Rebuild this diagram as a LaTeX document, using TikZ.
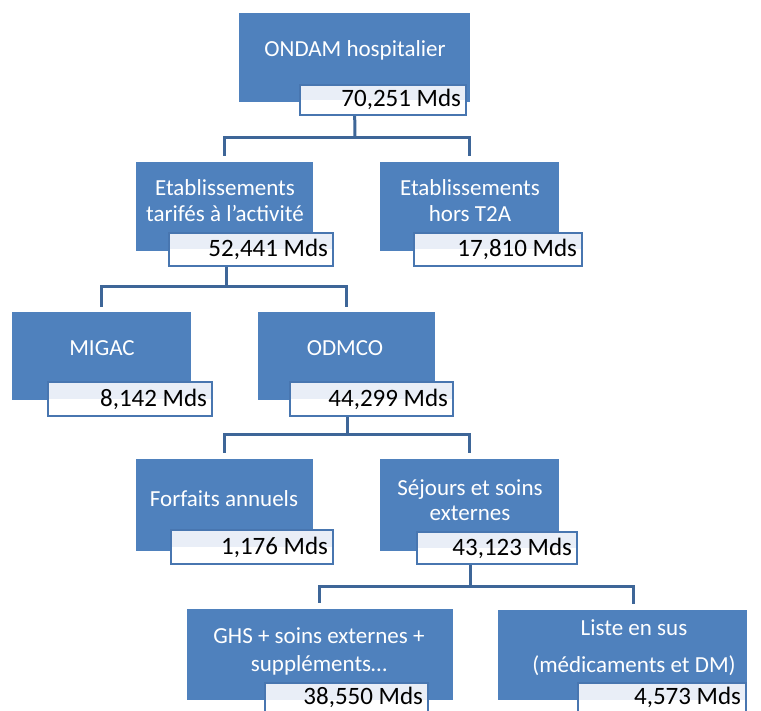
\documentclass[tikz,border=0pt]{standalone}
\usepackage{fontspec}
\setmainfont{Carlito}
\usetikzlibrary{backgrounds}
\definecolor{boxblue}{RGB}{79,129,189}
\definecolor{linkblue}{RGB}{62,102,152}
\definecolor{amtborder}{RGB}{72,118,176}
\definecolor{amtlight}{RGB}{233,238,247}
\tikzset{
  bbox/.style={fill=boxblue, draw=none, inner sep=0pt},
  btext/.style={text=white, align=center, inner sep=0pt, font=\fontsize{23}{26}\selectfont},
  amt/.style={draw=amtborder, line width=2.4pt, fill=white, inner sep=0pt,
    path picture={\fill[amtlight] (path picture bounding box.north west) rectangle (path picture bounding box.east);}},
  amttext/.style={anchor=base east, inner sep=0pt, text=black, font=\fontsize{25}{28}\selectfont},
  conn/.style={draw=linkblue, line width=3pt, line join=miter}
}
\begin{document}
\begin{tikzpicture}[x=1pt,y=-1pt]
\useasboundingbox (0,0) rectangle (761,711);
\clip (0,0) rectangle (761,711);
% blue boxes
\node[bbox, minimum width=231pt, minimum height=89pt] (T0) at (354.5,57.5) {};
\node[bbox, minimum width=177pt, minimum height=89pt] (B1) at (224.5,206.5) {};
\node[bbox, minimum width=179pt, minimum height=89pt] (B2) at (469.5,206.5) {};
\node[bbox, minimum width=179pt, minimum height=88pt] (C1) at (101.5,356) {};
\node[bbox, minimum width=177pt, minimum height=88pt] (C2) at (346.5,356) {};
\node[bbox, minimum width=177pt, minimum height=92pt] (D1) at (224.5,505) {};
\node[bbox, minimum width=179pt, minimum height=92pt] (D2) at (469.5,505) {};
\node[bbox, minimum width=266pt, minimum height=91pt] (E1) at (320,654.5) {};
\node[bbox, minimum width=249pt, minimum height=90pt] (E2) at (622.5,655) {};
% titles
\node[btext] (T0t) at (355,50) {ONDAM hospitalier};
\node[btext] (B1t) at (225,201) {Etablissements\\tarifés à l’activité};
\node[btext] (B2t) at (470,201) {Etablissements\\hors T2A};
\node[btext] (C1t) at (102,348) {MIGAC};
\node[btext] (C2t) at (345,348) {ODMCO};
\node[btext] (D1t) at (224,499) {Forfaits annuels};
\node[btext, font=\fontsize{23}{25}\selectfont] (D2t) at (470,500) {Séjours et soins\\externes};
\node[btext, font=\fontsize{23}{28}\selectfont] (E1t) at (319,651) {GHS + soins externes +\\suppléments…};
\node[btext, font=\fontsize{23}{37}\selectfont] (E2t) at (634,648) {Liste en sus\\(médicaments et DM)};
% amount boxes
\node[amt, minimum width=166pt, minimum height=30pt] (A0) at (383,100) {};
\node[amt, minimum width=164pt, minimum height=33pt] (A1) at (251,249.5) {};
\node[amt, minimum width=168pt, minimum height=33pt] (A2) at (498,249.5) {};
\node[amt, minimum width=164pt, minimum height=34pt] (AC1) at (130,399) {};
\node[amt, minimum width=163pt, minimum height=34pt] (AC2) at (371.5,399) {};
\node[amt, minimum width=162pt, minimum height=34pt] (AD1) at (252,547) {};
\node[amt, minimum width=160pt, minimum height=32pt] (AD2) at (497,548) {};
\node[amt, minimum width=163pt, minimum height=34pt] (AE1) at (346.5,700) {};
\node[amt, minimum width=168pt, minimum height=34pt] (AE2) at (662,700) {};
% amount texts
\node[amttext] (A0t) at ([xshift=-6pt,yshift=-7pt]A0.east) {70,251 Mds};
\node[amttext] (A1t) at ([xshift=-6pt,yshift=-7.5pt]A1.east) {52,441 Mds};
\node[amttext] (A2t) at ([xshift=-6pt,yshift=-7.5pt]A2.east) {17,810 Mds};
\node[amttext] (AC1t) at ([xshift=-6pt,yshift=-7.5pt]AC1.east) {8,142 Mds};
\node[amttext] (AC2t) at ([xshift=-6pt,yshift=-7.5pt]AC2.east) {44,299 Mds};
\node[amttext] (AD1t) at ([xshift=-6pt,yshift=-7.5pt]AD1.east) {1,176 Mds};
\node[amttext] (AD2t) at ([xshift=-6pt,yshift=-7.5pt]AD2.east) {43,123 Mds};
\node[amttext] (AE1t) at ([xshift=-6pt,yshift=-4.5pt]AE1.east) {38,550 Mds};
\node[amttext] (AE2t) at ([xshift=-6pt,yshift=-4.5pt]AE2.east) {4,573 Mds};
% connectors
\begin{scope}[on background layer]
\coordinate (j1) at (355,138);
\draw[conn] (T0.south) -- (j1);
\draw[conn] ([yshift=6pt]B1.north) |- (j1) -| ([yshift=6pt]B2.north);
\coordinate (j2) at (226,287);
\draw[conn] (B1.south -| j2) -- (j2);
\draw[conn] ([yshift=5pt]C1.north) |- (j2) -| ([yshift=5pt]C2.north);
\coordinate (j3) at (347.5,435);
\draw[conn] (C2.south -| j3) -- (j3);
\draw[conn] ([yshift=6pt]D1.north) |- (j3) -| ([yshift=6pt]D2.north);
\coordinate (j4) at (470,586);
\draw[conn] (D2.south -| j4) -- (j4);
\draw[conn] ([xshift=-1pt,yshift=6pt]E1.north) |- (j4) -| ([xshift=10.5pt,yshift=6pt]E2.north);
\end{scope}
\end{tikzpicture}
\end{document}
